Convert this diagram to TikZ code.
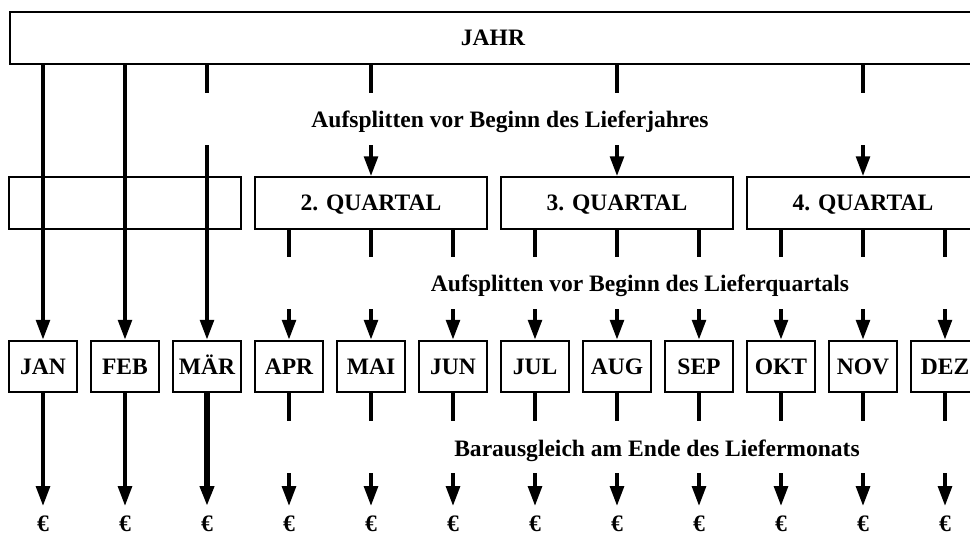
\documentclass[tikz,border=0pt]{standalone}
\usepackage{fontspec}
\setmainfont{Liberation Serif}
\usetikzlibrary{arrows.meta}

\begin{document}
\begin{tikzpicture}[x=0.02cm, y=-0.02cm, >={Triangle[length=0.4cm,width=0.27cm]},
  every node/.style={font=\fontsize{13.4}{15}\selectfont\bfseries},
  box/.style={draw, line width=1.1pt, inner sep=0pt, text height=0.31cm, text depth=0pt, minimum height=1.03cm},
  lbl/.style={inner sep=0pt, text height=0.7cm, text depth=0.34cm},
  euro/.style={inner sep=0pt, text height=0.3cm, text depth=0pt},
  link/.style={line width=2.3pt},
  pay/.style={link, ->, shorten >=0.2cm}]
\useasboundingbox (0,0) rectangle (970,537);
\clip (0,0) rectangle (970,537);

\node[box, minimum width=19.32cm] (jahr) at (493,38) {JAHR};
\node[box, minimum width=4.64cm] (q1) at (125,203) {};
\foreach \q [count=\k from 2] in {2. QUARTAL,3. QUARTAL,4. QUARTAL}
  \node[box, minimum width=4.64cm] (q\k) at ({125+246*(\k-1)},203) {\q};
\foreach \m [count=\i] in {JAN,FEB,MÄR,APR,MAI,JUN,JUL,AUG,SEP,OKT,NOV,DEZ} {
  \node[box, minimum width=1.36cm] (m\i) at ({43+82*(\i-1)},366.5) {\m};
  \node[euro] (e\i) at ({43+82*(\i-1)},524) {€};
}

\node[lbl] (l1) at (510,119) {Aufsplitten vor Beginn des Lieferjahres};
\node[lbl] (l2) at (640,283) {Aufsplitten vor Beginn des Lieferquartals};
\node[lbl] (l3) at (657,447) {Barausgleich am Ende des Liefermonats};

% Jahr -> Quartale, 1. Quartal gleich in Monate
\foreach \i in {1,2} \draw[link,->] (jahr.south -| m\i) -- (m\i.north);
\draw[link] (jahr.south -| m3) -- (l1.north -| m3);
\draw[link,->] (l1.south -| m3) -- (m3.north);
\foreach \k in {2,3,4} {
  \draw[link] (jahr.south -| q\k) -- (l1.north -| q\k);
  \draw[link,->] (l1.south -| q\k) -- (q\k.north);
}

% Quartale -> Monate -> Barausgleich
\foreach \i in {4,...,12} {
  \pgfmathtruncatemacro\k{int((\i+2)/3)}
  \draw[link] (q\k.south -| m\i) -- (l2.north -| m\i);
  \draw[link,->] (l2.south -| m\i) -- (m\i.north);
  \draw[link] (m\i.south) -- (l3.north -| m\i);
  \draw[pay] (l3.south -| m\i) -- (e\i.north);
}
\foreach \i in {1,2} \draw[pay] (m\i.south) -- (e\i.north);
\draw[pay, line width=3.4pt] (m3.south) -- (e3.north);
\end{tikzpicture}
\end{document}
